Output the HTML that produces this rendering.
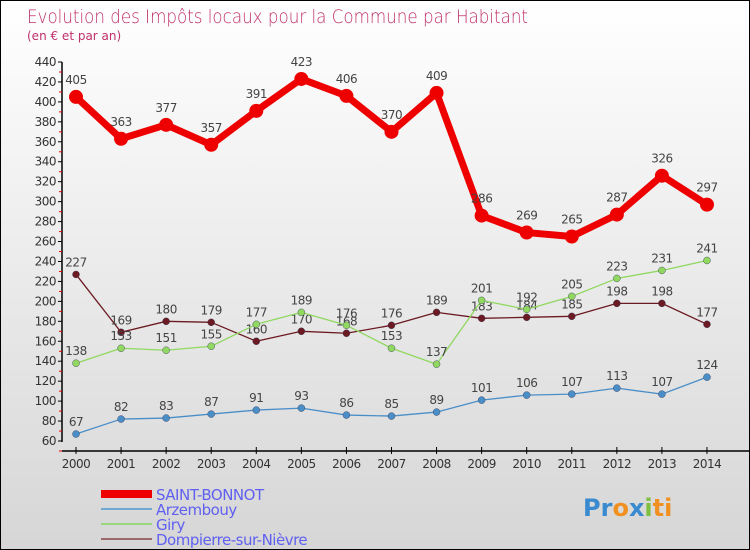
<!DOCTYPE html>
<html><head><meta charset="utf-8"><style>
body{margin:0;}
#c{width:748px;height:548px;border:1px solid #000;background:linear-gradient(#fff,#d6d6d6);position:relative;overflow:hidden;font-family:"DejaVu Sans","Liberation Sans",sans-serif;}
</style></head><body>
<div id="c">
<svg id="s" width="748" height="548" xmlns="http://www.w3.org/2000/svg">
<text x="26" y="22" font-size="19" fill="#c0306a" font-family="DejaVu Sans, sans-serif" font-weight="200" textLength="501" lengthAdjust="spacingAndGlyphs">Evolution des Impôts locaux pour la Commune par Habitant</text>
<text x="26" y="39" font-size="12" fill="#c0306a">(en € et par an)</text>
<g id="g"></g>
</svg>
</div>
<script>
const years=["2000","2001","2002","2003","2004","2005","2006","2007","2008","2009","2010","2011","2012","2013","2014"];
const yTicks=[60,80,100,120,140,160,180,200,220,240,260,280,300,320,340,360,380,400,420,440];
const saint=[405,363,377,357,391,423,406,370,409,286,269,265,287,326,297];
const arzem=[67,82,83,87,91,93,86,85,89,101,106,107,113,107,124];
const giry=[138,153,151,155,177,189,176,153,137,201,192,205,223,231,241];
const dompi=[227,169,180,179,160,170,168,176,189,183,184,185,198,198,177];
const names=["SAINT-BONNOT","Arzembouy","Giry","Dompierre-sur-Nièvre"];
const NS="http://www.w3.org/2000/svg";
const g=document.getElementById('g');
const xs=i=>75+i*45.07;
const ys=v=>440-(v-60)*379/380;
function mk(t,a,p){const e=document.createElementNS(NS,t);for(const k in a)e.setAttribute(k,a[k]);(p||g).appendChild(e);return e;}
let ax=mk('line',{x1:61,y1:61,x2:61,y2:441,stroke:'#000','stroke-width':1.5});


yTicks.forEach(v=>{const y=ys(v);
 mk('line',{x1:57,y1:y,x2:61,y2:y,stroke:'#000'});
 mk('line',{x1:58,y1:y+10,x2:61,y2:y+10,stroke:'#e00'});
 const t=mk('text',{x:55,y:y+4,'font-size':12,fill:'#333','text-anchor':'end','letter-spacing':'-0.5'});t.textContent=v;
 
 
});
let xa=mk('line',{x1:61,y1:450,x2:748,y2:450,stroke:'#000','stroke-width':1.5});


years.forEach((yr,i)=>{const x=xs(i);
 mk('line',{x1:x,y1:446,x2:x,y2:453,stroke:'#000'});
 const t=mk('text',{x:x,y:467,'font-size':12,fill:'#333','text-anchor':'middle','letter-spacing':'-0.5'});t.textContent=yr;
 
 
});
function series(d,color,w,r,name,labOff){
 const pts=d.map((v,i)=>xs(i)+','+ys(v)).join(' ');
 const l=mk('polyline',{points:pts,fill:'none',stroke:color,'stroke-width':w,'stroke-linejoin':'round'});
 
 
 d.forEach((v,i)=>{
  const c=mk('circle',{cx:xs(i),cy:ys(v),r:r,fill:color,stroke:w>4?color:'#335',"stroke-width":w>4?0:0.4});
  
  
  const t=mk('text',{x:xs(i),y:ys(v)+labOff,'font-size':12,fill:'#444','text-anchor':'middle','letter-spacing':'-0.5'});t.textContent=v;
  
  
 });
}
series(dompi,'#6b1a22',1.3,3.5,'dompierre',-8);
series(giry,'#90d860',1.3,3.5,'giry',-8);
series(arzem,'#4a8ec8',1.3,3.5,'arzembouy',-8);
series(saint,'#ee0000',7,7,'saint-bonnot',-13);
const lc=['#ee0000','#6fa8d0','#9ad880','#9a6a6a'],lw=[8,2,2,2],ly=[493,508,523,538];
names.forEach((n,i)=>{
 const s=mk('line',{x1:100,y1:ly[i],x2:151,y2:ly[i],stroke:lc[i],'stroke-width':lw[i]});
 
 
 const t=mk('text',{x:155,y:ly[i]+6,'font-size':15,fill:'#6060f0','letter-spacing':'-0.5'});t.textContent=n;
 
 
});
const lg=mk('text',{x:582,y:515,'font-size':24,'font-weight':'bold',fill:'#f09020'});


lg.innerHTML='<tspan fill="#3a8ad0">Pr</tspan><tspan fill="#f09020">o</tspan><tspan fill="#3a8ad0">x</tspan><tspan fill="#80c040">i</tspan><tspan fill="#f09020">ti</tspan>';
</script>
</body></html>
